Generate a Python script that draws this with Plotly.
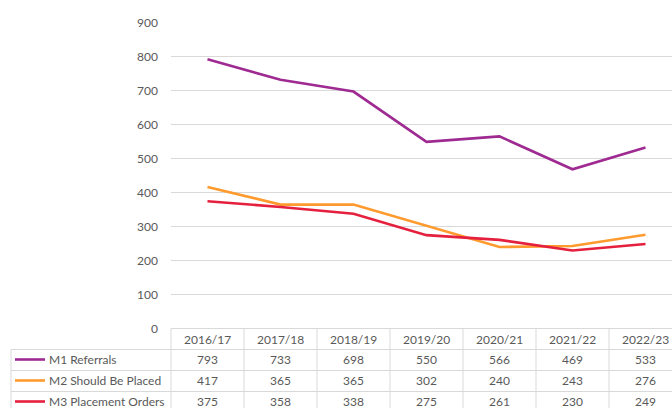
import plotly.graph_objects as go

years = ["2016/17", "2017/18", "2018/19", "2019/20", "2020/21", "2021/22", "2022/23"]
m1 = [793, 733, 698, 550, 566, 469, 533]
m2 = [417, 365, 365, 302, 240, 243, 276]
m3 = [375, 358, 338, 275, 261, 230, 249]
names = ["M1 Referrals", "M2 Should Be Placed", "M3 Placement Orders"]
colors = ["#9E2A92", "#FF9A2E", "#E5203E"]
yticks = [0, 100, 200, 300, 400, 500, 600, 700, 800, 900]

W, H = 672, 408
grey = "#595959"
gridc = "#D9D9D9"
font = "Lato"

# pixel layout of the excel-like chart + data table
plot_left = 171
col_w = 73
top_px = 23
zero_px = 328.5
row_h = 21
tab_left = 11

def px(x):
    return x / W

def py(y):
    return 1 - y / H

fig = go.Figure()
for vals, nm, c in zip([m1, m2, m3], names, colors):
    fig.add_trace(go.Scatter(x=years, y=vals, name=nm, mode="lines",
                             line=dict(color=c, width=2.6), showlegend=False))

shapes = []
annos = []
txt = dict(size=12, color=grey, family=font)
# table horizontal borders
for k in range(4):
    y = zero_px + k * row_h
    x0 = plot_left if k == 0 else tab_left
    shapes.append(dict(type="line", xref="paper", yref="paper", x0=px(x0), x1=1,
                       y0=py(y), y1=py(y), line=dict(color=gridc, width=1)))
# vertical borders
shapes.append(dict(type="line", xref="paper", yref="paper", x0=px(tab_left), x1=px(tab_left),
                   y0=py(zero_px + row_h), y1=0, line=dict(color=gridc, width=1)))
for j in range(len(years)):
    x = plot_left + j * col_w
    shapes.append(dict(type="line", xref="paper", yref="paper", x0=px(x), x1=px(x),
                       y0=py(zero_px), y1=0, line=dict(color=gridc, width=1)))

# header
for yr in years:
    annos.append(dict(x=yr, y=py(zero_px + row_h / 2), xref="x", yref="paper", text=yr,
                      xanchor="center", yanchor="middle", showarrow=False, font=txt))
# rows
for r, (vals, nm, c) in enumerate(zip([m1, m2, m3], names, colors)):
    yc = py(zero_px + (r + 1.5) * row_h - 0.5)
    for yr, v in zip(years, vals):
        annos.append(dict(x=yr, y=yc, xref="x", yref="paper", text=str(v),
                          xanchor="center", yanchor="middle", showarrow=False, font=txt))
    annos.append(dict(x=px(47), y=yc, xref="paper", yref="paper", text=nm, xanchor="left",
                      yanchor="middle", showarrow=False, font=txt))
    shapes.append(dict(type="line", xref="paper", yref="paper", x0=px(15), x1=px(45),
                       y0=yc, y1=yc, line=dict(color=c, width=2.6)))

span = (W - plot_left) / col_w
fig.update_layout(
    width=W, height=H,
    margin=dict(l=0, r=0, t=0, b=0, pad=0, autoexpand=False),
    paper_bgcolor="white", plot_bgcolor="white",
    font=dict(family=font, color=grey, size=12),
    xaxis=dict(domain=[px(plot_left), 1], range=[-0.5, -0.5 + span], automargin=False,
               showticklabels=False, showgrid=False, zeroline=False, showline=False),
    yaxis=dict(domain=[py(zero_px), py(top_px)], range=[0, 900], tickvals=yticks,
               automargin=False, showgrid=True, gridcolor=gridc, gridwidth=1,
               zeroline=False, showline=False, ticklabelstandoff=12, tickfont=txt),
    shapes=shapes,
    annotations=annos,
)

# drop the default 8px body margin so the figure fills the window exactly
fig.write_html("out.html", config={"displayModeBar": False},
               post_script="document.body.style.margin='0';document.body.style.overflow='hidden';")
